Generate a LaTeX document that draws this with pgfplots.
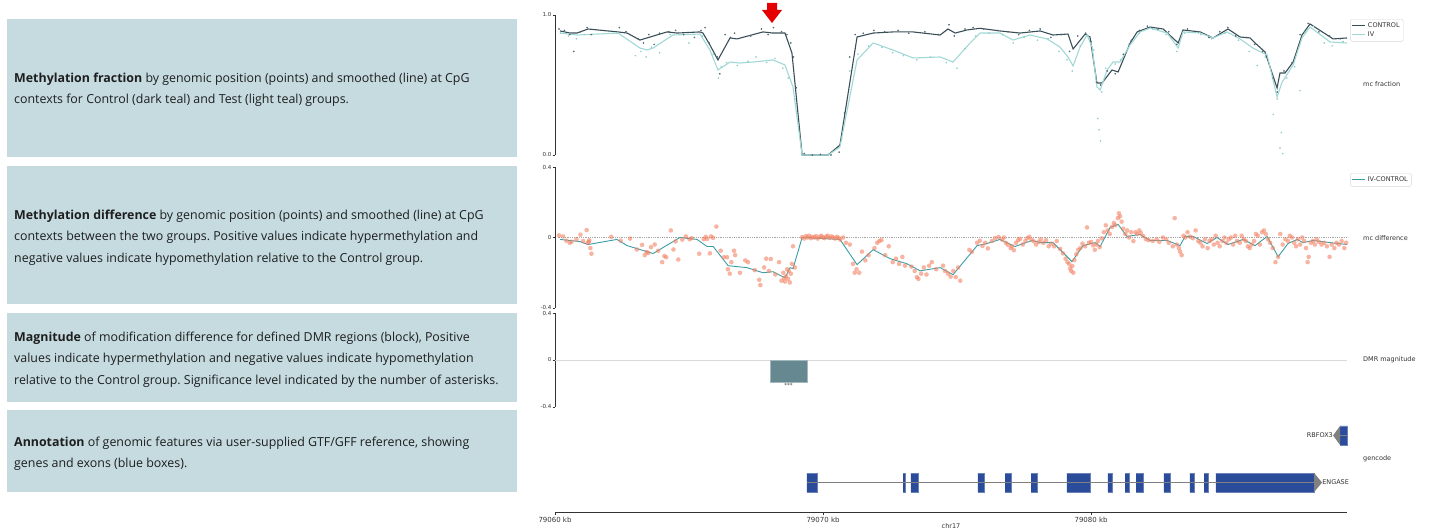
\documentclass[border=0pt]{standalone}
\usepackage{fontspec}
\usepackage{pgfplots}
\pgfplotsset{compat=1.18}
\setmainfont{Open Sans}
\newfontfamily\dejavu{DejaVu Sans}
\frenchspacing
\definecolor{boxc}{RGB}{197,219,224}
\definecolor{capc}{RGB}{30,30,30}
\definecolor{ctrl}{RGB}{58,78,88}
\definecolor{ivc}{RGB}{160,216,214}
\definecolor{ctrldot}{RGB}{80,105,115}
\definecolor{ivdot}{RGB}{150,205,205}
\definecolor{diffline}{RGB}{58,157,166}
\definecolor{diffdot}{RGB}{244,130,100}
\definecolor{barc}{RGB}{102,136,144}
\definecolor{exonc}{RGB}{43,75,155}
\definecolor{spinec}{RGB}{50,50,50}
\definecolor{legc}{RGB}{215,215,215}

\pgfplotsset{
  panel/.style={
    scale only axis, width=792pt, xmin=0, xmax=29.55, clip=false,
    axis x line=none, axis y line*=left,
    tick align=outside, major tick length=2.5pt,
    y axis line style={draw=spinec, line width=1pt},
    ytick style={draw=spinec, line width=0.6pt},
    yticklabel style={font=\dejavu\fontsize{5.5}{6}\selectfont, text=spinec, inner sep=1pt},
    legend cell align=left,
    legend image code/.code={\draw[##1] (0pt,0pt) -- (13pt,0pt);},
  },
}
\tikzset{lbl/.style={font=\dejavu\fontsize{6.5}{7}\selectfont, text=spinec, anchor=west, inner sep=0pt}}

\begin{document}
\begin{tikzpicture}
\useasboundingbox (0pt,0pt) rectangle (1430pt,529pt);
% caption boxes
\fill[boxc] (7pt,372pt) rectangle (517pt,510pt);
\fill[boxc] (7pt,225pt) rectangle (517pt,363pt);
\fill[boxc] (7pt,127pt) rectangle (517pt,216pt);
\fill[boxc] (7pt,37pt) rectangle (517pt,119pt);
\begin{scope}[every node/.style={anchor=west, align=left, text=capc, inner sep=0pt, font=\fontsize{12.4}{21.3}\selectfont\frenchspacing}]
\node at (14pt,439.5pt) {\textbf{Methylation fraction} by genomic position (points) and smoothed (line) at CpG\\contexts for Control (dark teal) and Test (light teal) groups.};
\node at (14pt,291.5pt) {\textbf{Methylation difference} by genomic position (points) and smoothed (line) at CpG\\contexts between the two groups. Positive values indicate hypermethylation and\\negative values indicate hypomethylation relative to the Control group.};
\node at (14pt,169.5pt) {\textbf{Magnitude} of modification difference for defined DMR regions (block), Positive\\values indicate hypermethylation and negative values indicate hypomethylation\\relative to the Control group. Significance level indicated by the number of asterisks.};
\node at (14pt,75.5pt) {\textbf{Annotation} of genomic features via user-supplied GTF/GFF reference, showing\\genes and exons (blue boxes).};
\end{scope}

% ---------------- Panel 1: methylation fraction
\begin{axis}[panel, at={(555pt,374pt)}, anchor=south west, height=140pt,
  ymin=0, ymax=1, ytick={0,1}, yticklabels={0.0,1.0},
  legend style={at={(1.004,0.971)}, anchor=north west, draw=legc, rounded corners=1.5pt,
    font=\dejavu\fontsize{6.5}{7}\selectfont, inner sep=1.5pt, row sep=-1.5pt, text=spinec}]
\addplot[only marks, mark=*, mark size=0.6pt, color=ctrldot, forget plot] coordinates {
(0.15,0.90)(0.35,0.89)(0.55,0.86)(0.7,0.74)(0.95,0.88)(1.2,0.91)(1.35,0.86)(2.4,0.91)(2.65,0.88)(3.1,0.83)(3.3,0.80)(3.5,0.86)(3.7,0.79)(3.9,0.87)(4.25,0.88)(4.5,0.89)(4.8,0.86)(5.2,0.84)(5.45,0.89)(5.6,0.91)(5.75,0.80)(6.05,0.70)(6.15,0.58)(6.35,0.86)(6.55,0.84)(6.7,0.87)(7.3,0.85)(7.7,0.90)(7.95,0.86)(8.15,0.91)(8.45,0.88)(8.65,0.86)(8.8,0.80)(8.9,0.70)(9.0,0.48)(9.3,0.01)(9.6,0.0)(9.9,0.005)(10.3,0.0)(10.6,0.02)(10.8,0.30)(11.0,0.70)(11.2,0.86)(11.5,0.87)(11.9,0.89)(12.3,0.88)(12.8,0.89)(13.2,0.87)(13.8,0.88)(14.3,0.86)(14.7,0.93)(14.9,0.85)(15.3,0.90)(15.6,0.91)(16.0,0.90)(16.5,0.89)(16.9,0.88)(17.3,0.86)(17.7,0.89)(18.1,0.90)(18.5,0.84)(18.9,0.86)(19.2,0.74)(19.5,0.85)(19.8,0.87)(20.0,0.81)(20.2,0.52)(20.35,0.50)(20.6,0.60)(20.9,0.58)(21.2,0.72)(21.5,0.82)(21.8,0.89)(22.1,0.92)(22.5,0.90)(22.9,0.88)(23.2,0.79)(23.6,0.90)(24.0,0.88)(24.4,0.84)(24.8,0.88)(25.1,0.91)(25.4,0.85)(25.8,0.84)(26.1,0.79)(26.4,0.74)(26.8,0.55)(26.95,0.45)(27.2,0.60)(27.5,0.66)(27.8,0.86)(28.1,0.94)(28.5,0.88)(28.9,0.85)(29.3,0.83)};
\addplot[only marks, mark=*, mark size=0.6pt, color=ivdot, forget plot] coordinates {
(0.2,0.87)(0.5,0.85)(0.8,0.83)(1.1,0.86)(2.3,0.87)(3.0,0.71)(3.2,0.74)(3.4,0.70)(3.6,0.77)(3.9,0.73)(4.3,0.86)(5.0,0.80)(5.5,0.85)(5.9,0.72)(6.1,0.55)(6.2,0.63)(6.4,0.66)(6.8,0.64)(7.2,0.67)(7.5,0.70)(7.9,0.66)(8.2,0.69)(8.5,0.62)(8.7,0.55)(8.95,0.40)(9.4,0.0)(9.8,0.0)(10.2,0.005)(10.7,0.12)(11.0,0.60)(11.3,0.72)(11.7,0.78)(12.2,0.77)(12.6,0.73)(13.0,0.71)(13.5,0.68)(14.0,0.70)(14.6,0.66)(15.0,0.62)(15.3,0.76)(15.7,0.85)(16.2,0.87)(16.7,0.86)(17.1,0.80)(17.5,0.84)(18.0,0.82)(18.4,0.83)(18.8,0.74)(19.1,0.68)(19.3,0.60)(19.6,0.78)(19.9,0.85)(20.1,0.75)(20.25,0.26)(20.3,0.18)(20.35,0.10)(20.4,0.45)(20.55,0.62)(20.9,0.65)(21.1,0.68)(21.4,0.79)(21.8,0.87)(22.3,0.90)(22.8,0.86)(23.2,0.74)(23.5,0.87)(24.1,0.86)(24.5,0.83)(25.0,0.87)(25.5,0.82)(25.9,0.74)(26.2,0.64)(26.5,0.70)(26.8,0.29)(26.95,0.40)(27.1,0.16)(27.05,0.05)(27.15,0.01)(27.3,0.55)(27.6,0.63)(27.8,0.46)(28.0,0.88)(28.3,0.92)(28.7,0.80)(29.0,0.78)(29.4,0.81)};
\addplot[color=ctrl, line width=1.1pt] coordinates {
(0.19,0.886)(0.56,0.871)(0.82,0.871)(1.23,0.900)(2.35,0.879)(2.69,0.871)(3.17,0.821)(4.18,0.879)(4.55,0.871)(5.41,0.879)(5.52,0.871)(5.78,0.786)(6.08,0.679)(6.53,0.836)(6.79,0.829)(7.76,0.879)(8.13,0.871)(8.58,0.871)(8.84,0.729)(9.22,0)(10.19,0)(10.63,0.071)(11.27,0.843)(11.87,0.871)(12.61,0.879)(13.36,0.879)(14.37,0.857)(14.66,0.900)(14.93,0.871)(15.37,0.893)(15.86,0.905)(16.60,0.886)(17.35,0.871)(18.10,0.886)(18.58,0.857)(19.14,0.864)(19.33,0.757)(19.78,0.864)(19.96,0.843)(20.22,0.514)(20.41,0.514)(20.78,0.607)(21.01,0.593)(21.46,0.800)(21.72,0.879)(22.20,0.914)(22.69,0.900)(23.25,0.800)(23.43,0.893)(24.07,0.879)(24.55,0.836)(25.11,0.900)(25.56,0.843)(25.93,0.836)(26.12,0.800)(26.49,0.736)(26.94,0.479)(27.05,0.586)(27.24,0.586)(27.54,0.664)(27.87,0.857)(28.17,0.936)(28.92,0.843)(29.03,0.829)(29.55,0.836)};
\addlegendentry{CONTROL}
\addplot[color=ivc, line width=1.1pt] coordinates {
(0.19,0.871)(0.82,0.857)(2.35,0.871)(3.17,0.764)(3.43,0.750)(3.66,0.764)(4.40,0.857)(5.41,0.864)(5.78,0.750)(6.08,0.607)(6.53,0.664)(6.90,0.657)(7.39,0.664)(8.13,0.679)(8.58,0.643)(8.88,0.486)(9.22,0)(10.19,0)(10.63,0.057)(11.27,0.679)(11.87,0.800)(12.61,0.750)(13.36,0.693)(14.37,0.700)(14.85,0.664)(15.49,0.800)(15.86,0.871)(16.60,0.871)(17.09,0.821)(17.72,0.857)(18.36,0.829)(18.84,0.771)(19.14,0.700)(19.33,0.636)(19.59,0.771)(19.85,0.857)(20.04,0.771)(20.22,0.486)(20.34,0.464)(20.60,0.607)(20.82,0.664)(21.08,0.664)(21.46,0.786)(21.83,0.879)(22.20,0.907)(22.84,0.871)(23.25,0.764)(23.43,0.879)(24.07,0.871)(24.55,0.836)(25.07,0.879)(25.56,0.829)(26.04,0.764)(26.57,0.714)(26.94,0.414)(27.13,0.521)(27.54,0.643)(27.87,0.836)(28.17,0.914)(28.92,0.807)(29.55,0.800)};
\addlegendentry{IV}
\end{axis}
\node[lbl] at (1363pt,445pt) {mc fraction};

% red arrow
\fill[red!90!black] (767pt,526pt) -- (777pt,526pt) -- (777pt,519pt) -- (782pt,519pt) -- (772pt,506pt) -- (762pt,519pt) -- (767pt,519pt) -- cycle;

% ---------------- Panel 2: methylation difference
\begin{axis}[panel, at={(555pt,221pt)}, anchor=south west, height=141pt,
  ymin=-0.4, ymax=0.4, ytick={-0.4,0,0.4}, yticklabels={-0.4,0,0.4},
  legend style={at={(1.004,0.957)}, anchor=north west, draw=legc, rounded corners=1.5pt,
    font=\dejavu\fontsize{6.5}{7}\selectfont, inner sep=1.5pt, text=spinec}]
\addplot[densely dotted, color=gray!70, line width=0.8pt, forget plot] coordinates {(0.1,0)(29.55,0)};
\addplot[only marks, mark=*, mark size=2.3pt, color=diffdot, mark options={draw opacity=0, fill opacity=0.6}, forget plot] table {
x y
0.15 0.012
0.30 0.006
0.42 -0.018
0.55 -0.030
0.62 -0.024
0.80 -0.010
0.95 0.016
1.05 -0.020
1.18 0.042
1.22 -0.030
1.28 -0.016
1.32 -0.060
1.36 -0.092
1.26 -0.024
2.10 0.004
2.45 -0.018
2.80 -0.006
3.05 -0.068
3.25 -0.042
3.35 -0.100
3.42 -0.082
3.48 -0.088
3.58 -0.055
3.72 -0.040
3.85 -0.075
4.00 -0.140
4.08 -0.105
4.15 -0.112
4.32 0.040
4.42 -0.068
4.50 -0.022
4.60 -0.125
4.75 -0.012
4.88 0.006
5.02 -0.010
5.10 -0.004
5.38 -0.092
5.55 -0.010
5.62 0.004
5.68 -0.008
5.78 -0.090
5.82 0.006
5.90 -0.002
6.02 0.062
6.18 -0.075
6.30 -0.112
6.42 -0.112
6.45 -0.180
6.52 -0.205
6.58 -0.140
6.68 -0.075
6.72 -0.100
6.90 -0.200
7.10 -0.130
7.20 -0.140
7.45 -0.185
7.62 -0.240
7.66 -0.270
7.80 -0.170
7.88 -0.120
7.98 -0.190
8.05 -0.122
8.22 -0.210
8.36 -0.140
8.45 -0.245
8.52 -0.200
8.58 -0.250
8.62 -0.220
8.66 -0.180
8.70 -0.235
8.76 -0.255
8.80 -0.205
8.84 -0.150
8.88 -0.050
8.95 -0.170
8.72 -0.190
8.55 -0.230
9.22 0.002
9.30 -0.006
9.36 0.008
9.42 0.000
9.48 0.010
9.55 -0.004
9.60 0.004
9.68 0.000
9.74 0.008
9.80 -0.006
9.88 0.004
9.94 0.010
10.00 0.000
10.06 -0.004
10.12 0.006
10.18 0.010
10.25 -0.002
10.32 0.006
10.38 0.000
10.45 -0.006
10.52 0.004
10.58 -0.002
10.64 -0.012
10.75 0.000
10.85 -0.030
11.00 -0.040
11.12 -0.150
11.18 -0.200
11.25 -0.180
11.35 -0.200
11.45 -0.080
11.58 -0.130
11.70 -0.100
11.92 -0.060
12.02 -0.030
12.10 -0.020
12.18 -0.015
12.32 -0.100
12.45 -0.050
12.60 -0.140
12.72 -0.120
12.84 -0.150
12.96 -0.110
13.06 -0.160
13.30 -0.165
13.42 -0.190
13.50 -0.225
13.56 -0.235
13.66 -0.205
13.76 -0.170
13.86 -0.210
13.96 -0.160
14.06 -0.140
14.22 -0.180
14.48 -0.160
14.55 -0.190
14.66 -0.205
14.76 -0.222
14.86 -0.190
14.95 -0.225
15.04 -0.170
15.12 -0.245
15.46 -0.070
15.55 -0.082
15.75 -0.030
15.85 -0.018
15.95 -0.048
16.05 -0.030
16.15 -0.062
16.30 -0.020
16.42 -0.004
16.55 0.003
16.68 -0.012
16.75 0.000
16.82 -0.030
16.90 -0.042
17.00 -0.060
17.05 -0.050
17.12 -0.072
17.20 -0.030
17.28 -0.015
17.35 -0.008
17.45 -0.040
17.55 -0.020
17.62 -0.004
17.70 0.004
17.78 -0.012
17.86 -0.022
17.95 -0.040
18.05 -0.025
18.12 -0.010
18.22 -0.030
18.32 -0.015
18.42 -0.050
18.52 -0.035
18.62 -0.050
18.72 -0.020
18.85 -0.065
18.95 -0.090
19.05 -0.120
19.12 -0.140
19.18 -0.150
19.22 -0.175
19.26 -0.190
19.30 -0.162
19.34 -0.200
19.38 -0.128
19.45 -0.095
19.52 -0.070
19.60 -0.060
19.68 -0.035
19.78 -0.050
19.85 0.057
19.92 -0.030
20.00 -0.025
20.08 -0.045
20.14 -0.070
20.20 -0.040
20.26 -0.020
20.32 -0.055
20.40 -0.005
20.48 0.030
20.55 0.069
20.62 0.040
20.70 0.020
20.78 0.060
20.85 0.082
20.90 0.070
21.00 0.110
21.04 0.137
21.08 0.120
21.14 0.090
21.20 0.050
21.28 0.020
21.35 0.040
21.42 0.000
21.50 0.030
21.58 -0.020
21.66 0.030
21.72 0.020
21.80 0.040
21.86 0.025
21.95 0.008
22.05 -0.010
22.15 -0.015
22.30 -0.020
22.45 -0.010
22.55 -0.025
22.68 0.000
22.80 -0.010
22.90 -0.030
23.05 -0.050
23.12 0.110
23.20 -0.040
23.28 -0.060
23.32 -0.080
23.38 -0.100
23.45 0.010
23.52 0.000
23.60 0.030
23.70 0.005
23.80 -0.004
23.90 0.040
24.00 -0.020
24.08 -0.030
24.16 -0.050
24.25 -0.010
24.35 -0.060
24.42 -0.020
24.50 -0.010
24.58 -0.040
24.65 0.010
24.72 -0.030
24.80 -0.050
24.90 -0.020
24.98 0.000
25.05 -0.030
25.14 -0.010
25.22 0.000
25.30 -0.040
25.38 0.010
25.45 -0.020
25.55 -0.030
25.62 0.010
25.70 -0.010
25.78 -0.020
25.85 -0.050
25.92 -0.060
26.00 -0.040
26.08 -0.020
26.15 0.020
26.22 0.010
26.30 -0.040
26.38 0.030
26.45 0.040
26.52 0.020
26.60 -0.010
26.68 -0.030
26.78 -0.060
26.88 -0.140
26.98 -0.110
27.06 0.020
27.15 -0.040
27.25 -0.010
27.35 -0.020
27.42 0.010
27.50 0.000
27.58 -0.030
27.65 -0.050
27.72 -0.010
27.80 -0.040
27.88 0.000
27.95 -0.020
28.02 -0.060
28.08 -0.140
28.12 -0.110
28.20 -0.030
28.28 -0.020
28.35 -0.040
28.42 -0.010
28.50 -0.025
28.60 -0.040
28.70 -0.030
28.80 -0.050
28.90 -0.110
28.98 -0.040
29.08 -0.060
29.16 -0.030
29.25 -0.040
29.35 -0.020
29.45 -0.060
29.52 -0.030
};
\addplot[color=diffline, line width=0.9pt] coordinates {
(0.19,-0.011)(0.93,-0.023)(1.23,-0.040)(2.31,-0.011)(2.69,-0.046)(3.66,-0.091)(4.66,0)(5.30,-0.011)(5.67,-0.051)(5.90,-0.051)(6.46,-0.160)(7.16,-0.171)(7.76,-0.200)(8.13,-0.194)(8.58,-0.229)(8.77,-0.171)(8.88,-0.177)(9.22,0)(10.63,-0.011)(11.27,-0.154)(11.87,-0.069)(12.50,-0.120)(13.13,-0.149)(13.62,-0.189)(14.37,-0.171)(14.85,-0.211)(15.75,-0.046)(16.12,-0.034)(16.60,-0.011)(17.16,-0.051)(17.80,-0.017)(18.10,-0.029)(18.58,-0.029)(19.29,-0.137)(19.70,-0.046)(20.15,-0.029)(20.34,-0.051)(20.71,0.057)(21.01,0.074)(21.34,0.006)(21.83,0.017)(22.20,-0.017)(22.84,-0.017)(23.32,-0.046)(23.51,0.006)(23.81,0.006)(24.33,-0.034)(24.70,0)(25.11,-0.040)(25.67,-0.011)(26.12,-0.046)(26.57,0.006)(26.98,-0.109)(27.35,-0.034)(27.69,-0.011)(27.91,-0.029)(28.28,-0.017)(28.92,-0.029)(29.55,-0.040)};
\addlegendentry{IV-CONTROL}
\end{axis}
\node[lbl] at (1363pt,291pt) {mc difference};

% ---------------- Panel 3: DMR magnitude
\begin{axis}[panel, at={(555pt,122pt)}, anchor=south west, height=94pt,
  ymin=-0.4, ymax=0.4, ytick={-0.4,0,0.4}, yticklabels={-0.4,0,0.4}]
\addplot[color=black!15, line width=0.8pt] coordinates {(0,0)(29.55,0)};
\addplot[fill=barc, draw=barc!60!white, line width=0.5pt] coordinates {(8.02,0)(9.40,0)(9.40,-0.19)(8.02,-0.19)} -- cycle;
\node[font=\dejavu\fontsize{5.5}{6}\selectfont, text=spinec, anchor=north, inner sep=1pt] at (axis cs:8.71,-0.19) {***};
\end{axis}
\node[lbl] at (1363pt,169pt) {DMR magnitude};

% ---------------- Panel 4: gene annotation
\begin{axis}[scale only axis, width=792pt, height=98pt, at={(555pt,16pt)}, anchor=south west,
  xmin=0, xmax=29.55, ymin=0, ymax=1, clip=false,
  axis y line=none, axis x line*=bottom,
  x axis line style={draw=spinec, line width=1pt},
  xtick={0,10,20}, xticklabels={79060 kb,79070 kb,79080 kb},
  tick align=outside, major tick length=2.5pt, xtick style={draw=spinec, line width=0.6pt},
  xticklabel style={font=\dejavu\fontsize{7}{8}\selectfont, text=spinec, inner sep=0pt, yshift=-1pt},
  xlabel={chr17}, xlabel style={font=\dejavu\fontsize{6.5}{7}\selectfont, text=spinec, at={(axis description cs:0.5,0)}, anchor=north, yshift=-10pt, inner sep=0pt}]
% ENGASE exons
\addplot[fill=exonc, draw=exonc!70!white, line width=0.3pt, unbounded coords=jump] table {
x y
9.40 0.214
9.78 0.214
9.78 0.408
9.40 0.408
nan nan
12.99 0.214
13.06 0.214
13.06 0.408
12.99 0.408
nan nan
13.28 0.214
13.54 0.214
13.54 0.408
13.28 0.408
nan nan
15.78 0.214
16.01 0.214
16.01 0.408
15.78 0.408
nan nan
16.79 0.214
17.01 0.214
17.01 0.408
16.79 0.408
nan nan
17.76 0.214
17.99 0.214
17.99 0.408
17.76 0.408
nan nan
19.10 0.214
19.96 0.214
19.96 0.408
19.10 0.408
nan nan
20.63 0.214
20.78 0.214
20.78 0.408
20.63 0.408
nan nan
21.27 0.214
21.42 0.214
21.42 0.408
21.27 0.408
nan nan
21.68 0.214
21.94 0.214
21.94 0.408
21.68 0.408
nan nan
22.72 0.214
22.95 0.214
22.95 0.408
22.72 0.408
nan nan
23.69 0.214
23.84 0.214
23.84 0.408
23.69 0.408
nan nan
24.22 0.214
24.37 0.214
24.37 0.408
24.22 0.408
nan nan
24.66 0.214
28.32 0.214
28.32 0.408
24.66 0.408
nan nan
29.29 0.694
29.55 0.694
29.55 0.888
29.29 0.888
};
\addplot[color=gray, line width=0.6pt] coordinates {(9.40,0.311)(28.32,0.311)};
\addplot[color=gray, line width=0.6pt] coordinates {(29.29,0.791)(29.55,0.791)};
\addplot[fill=gray, draw=none] coordinates {(28.32,0.214)(28.62,0.311)(28.32,0.408)} -- cycle;
\addplot[fill=gray, draw=none] coordinates {(29.29,0.694)(29.03,0.791)(29.29,0.888)} -- cycle;
\node[font=\dejavu\fontsize{6.5}{7}\selectfont, text=spinec, anchor=west, inner sep=0pt] at (axis cs:28.62,0.311) {ENGASE};
\node[font=\dejavu\fontsize{6.5}{7}\selectfont, text=spinec, anchor=east, inner sep=0pt] at (axis cs:29.03,0.791) {RBFOX3};
\end{axis}
\node[lbl] at (1363pt,70pt) {gencode};
\end{tikzpicture}
\end{document}
